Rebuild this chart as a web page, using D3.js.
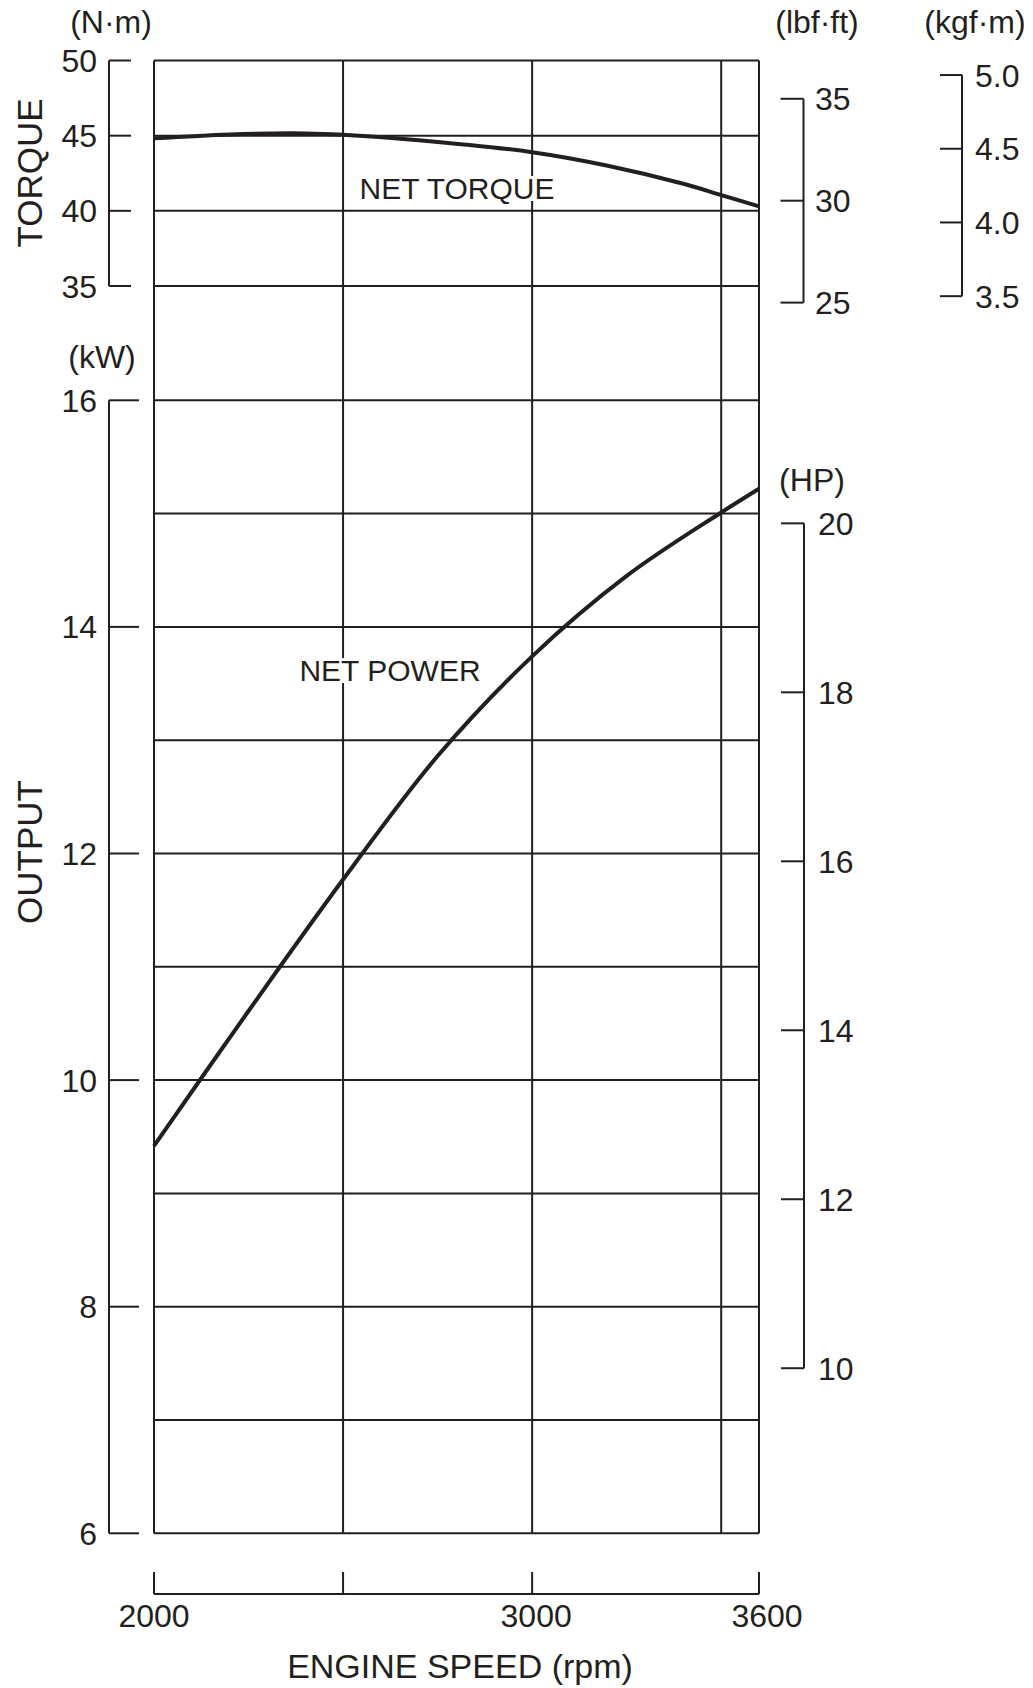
<!DOCTYPE html>
<html>
<head>
<meta charset="utf-8">
<script src="https://cdn.jsdelivr.net/npm/d3@7"></script>
<style>
  body { margin: 0; background: #fff; }
  text { font-family: "Liberation Sans", Arial, Helvetica, sans-serif; fill: #231f20; }
</style>
</head>
<body>
<svg id="chart" width="1033" height="1688"></svg>
<script>
// engine speed ticks / gridlines
const speedTicks = [2000, 2500, 3000, 3600];
const speedGrid = [2000, 2500, 3000, 3500, 3600];

// torque curve (N·m)
const torqueRpm = [2000, 2200, 2400, 2500, 2700, 3000, 3200, 3400, 3500, 3600];
const torqueNm = [44.82, 45.08, 45.15, 45.06, 44.7, 43.9, 43.0, 41.8, 41.05, 40.3];

// power curve (kW)
const powerRpm = [2000, 2250, 2500, 2750, 3000, 3250, 3500, 3600];
const powerKw = [9.42, 10.61, 11.77, 12.86, 13.74, 14.45, 15.01, 15.22];

// tick values for each axis
const nmTicks = [35, 40, 45, 50];
const lbfTicks = [25, 30, 35];
const kgfTicks = [3.5, 4.0, 4.5, 5.0];
const kwTicks = [6, 8, 10, 12, 14, 16];
const kwGrid = [6, 7, 8, 9, 10, 11, 12, 13, 14, 15, 16];
const hpTicks = [10, 12, 14, 16, 18, 20];

const ink = '#231f20';
const svg = d3.select('#chart');

const x = d3.scaleLinear().domain([2000, 3600]).range([154, 759]);
const yNm = d3.scaleLinear().domain([35, 50]).range([286, 60.5]);
const yLbf = d3.scaleLinear().domain([25, 35]).range([yNm(25 * 1.35582), yNm(35 * 1.35582)]);
const yKgf = d3.scaleLinear().domain([3.5, 5]).range([yNm(3.5 * 9.80665), yNm(5 * 9.80665)]);
const yKw = d3.scaleLinear().domain([6, 16]).range([1533.3, 400.3]);
const yHp = d3.scaleLinear().domain([10, 20]).range([yKw(10 * 0.7457), yKw(20 * 0.7457)]);

// gridlines
const grid = svg.append('g').attr('stroke', ink).attr('stroke-width', 2);
grid.selectAll('.vg').data(speedGrid).join('line')
    .attr('x1', d => x(d)).attr('x2', d => x(d))
    .attr('y1', yNm(50)).attr('y2', yKw(6));
grid.selectAll('.tg').data(nmTicks).join('line')
    .attr('x1', x(2000)).attr('x2', x(3600))
    .attr('y1', d => yNm(d)).attr('y2', d => yNm(d));
grid.selectAll('.pg').data(kwGrid).join('line')
    .attr('x1', x(2000)).attr('x2', x(3600))
    .attr('y1', d => yKw(d)).attr('y2', d => yKw(d));

// side axis: vertical line, ticks to one side, labels
function sideAxis(scale, ticks, o) {
    const g = svg.append('g');
    const ext = d3.extent(ticks);
    g.append('line')
        .attr('x1', o.x).attr('x2', o.x)
        .attr('y1', scale(ext[0])).attr('y2', scale(ext[1]))
        .attr('stroke', ink).attr('stroke-width', 2);
    g.selectAll('.t').data(ticks).join('line')
        .attr('x1', o.x).attr('x2', o.x + o.len)
        .attr('y1', d => scale(d)).attr('y2', d => scale(d))
        .attr('stroke', ink).attr('stroke-width', 2);
    g.selectAll('text').data(ticks).join('text')
        .attr('x', o.lx).attr('y', d => scale(d))
        .attr('dy', '0.36em')
        .attr('text-anchor', o.anchor)
        .style('font-size', '32px')
        .text(o.fmt || (d => d));
}

sideAxis(yNm, nmTicks, { x: 109, len: 22, lx: 97, anchor: 'end' });
sideAxis(yKw, kwTicks, { x: 109, len: 30, lx: 97, anchor: 'end' });
sideAxis(yLbf, lbfTicks, { x: 803.5, len: -23, lx: 815, anchor: 'start' });
sideAxis(yKgf, kgfTicks, { x: 962, len: -22, lx: 975, anchor: 'start', fmt: d3.format('.1f') });
sideAxis(yHp, hpTicks, { x: 804, len: -23, lx: 818, anchor: 'start' });

// bottom speed axis
const bottomY = 1594;
const bx = svg.append('g');
bx.append('line')
    .attr('x1', x(2000)).attr('x2', x(3600))
    .attr('y1', bottomY).attr('y2', bottomY)
    .attr('stroke', ink).attr('stroke-width', 2);
bx.selectAll('.t').data(speedTicks).join('line')
    .attr('x1', d => x(d)).attr('x2', d => x(d))
    .attr('y1', bottomY).attr('y2', bottomY - 22)
    .attr('stroke', ink).attr('stroke-width', 2);
bx.selectAll('text').data(speedTicks.filter(d => d !== 2500)).join('text')
    .attr('x', d => x(d) + (d === 3600 ? 8 : d === 3000 ? 4 : 0))
    .attr('y', 1627)
    .attr('text-anchor', 'middle')
    .style('font-size', '32px')
    .text(d => d);

// unit labels
const units = [
    { t: '(N·m)', x: 111, y: 33 },
    { t: '(lbf·ft)', x: 817, y: 33 },
    { t: '(kgf·m)', x: 975, y: 33 },
    { t: '(kW)', x: 102, y: 368 },
    { t: '(HP)', x: 812, y: 491 }
];
svg.selectAll('.unit').data(units).join('text')
    .attr('x', d => d.x).attr('y', d => d.y)
    .attr('text-anchor', 'middle')
    .style('font-size', '32px')
    .text(d => d.t);

// axis titles
svg.append('text')
    .attr('transform', 'translate(42,173) rotate(-90)')
    .attr('text-anchor', 'middle')
    .style('font-size', '35px')
    .text('TORQUE');
svg.append('text')
    .attr('transform', 'translate(42,852) rotate(-90)')
    .attr('text-anchor', 'middle')
    .style('font-size', '35px')
    .text('OUTPUT');
svg.append('text')
    .attr('x', 460).attr('y', 1678)
    .attr('text-anchor', 'middle')
    .style('font-size', '34px')
    .text('ENGINE SPEED (rpm)');

// curves
const torqueLine = d3.line()
    .x((d, i) => x(torqueRpm[i]))
    .y(d => yNm(d))
    .curve(d3.curveCatmullRom.alpha(0.5));
const powerLine = d3.line()
    .x((d, i) => x(powerRpm[i]))
    .y(d => yKw(d))
    .curve(d3.curveCatmullRom.alpha(0.5));

svg.append('path').datum(torqueNm)
    .attr('d', torqueLine)
    .attr('fill', 'none').attr('stroke', ink).attr('stroke-width', 4);
svg.append('path').datum(powerKw)
    .attr('d', powerLine)
    .attr('fill', 'none').attr('stroke', ink).attr('stroke-width', 4);

// curve labels, with white behind so gridlines break
function curveLabel(txt, cx, by) {
    const t = svg.append('text')
        .attr('x', cx).attr('y', by)
        .attr('text-anchor', 'middle')
        .style('font-size', '30px')
        .text(txt);
    const b = t.node().getBBox();
    svg.insert('rect', () => t.node())
        .attr('x', b.x - 2).attr('y', b.y + 4)
        .attr('width', b.width + 4).attr('height', b.height - 8)
        .attr('fill', '#fff');
}
curveLabel('NET TORQUE', 457, 199);
curveLabel('NET POWER', 390, 681);
</script>
</body>
</html>
